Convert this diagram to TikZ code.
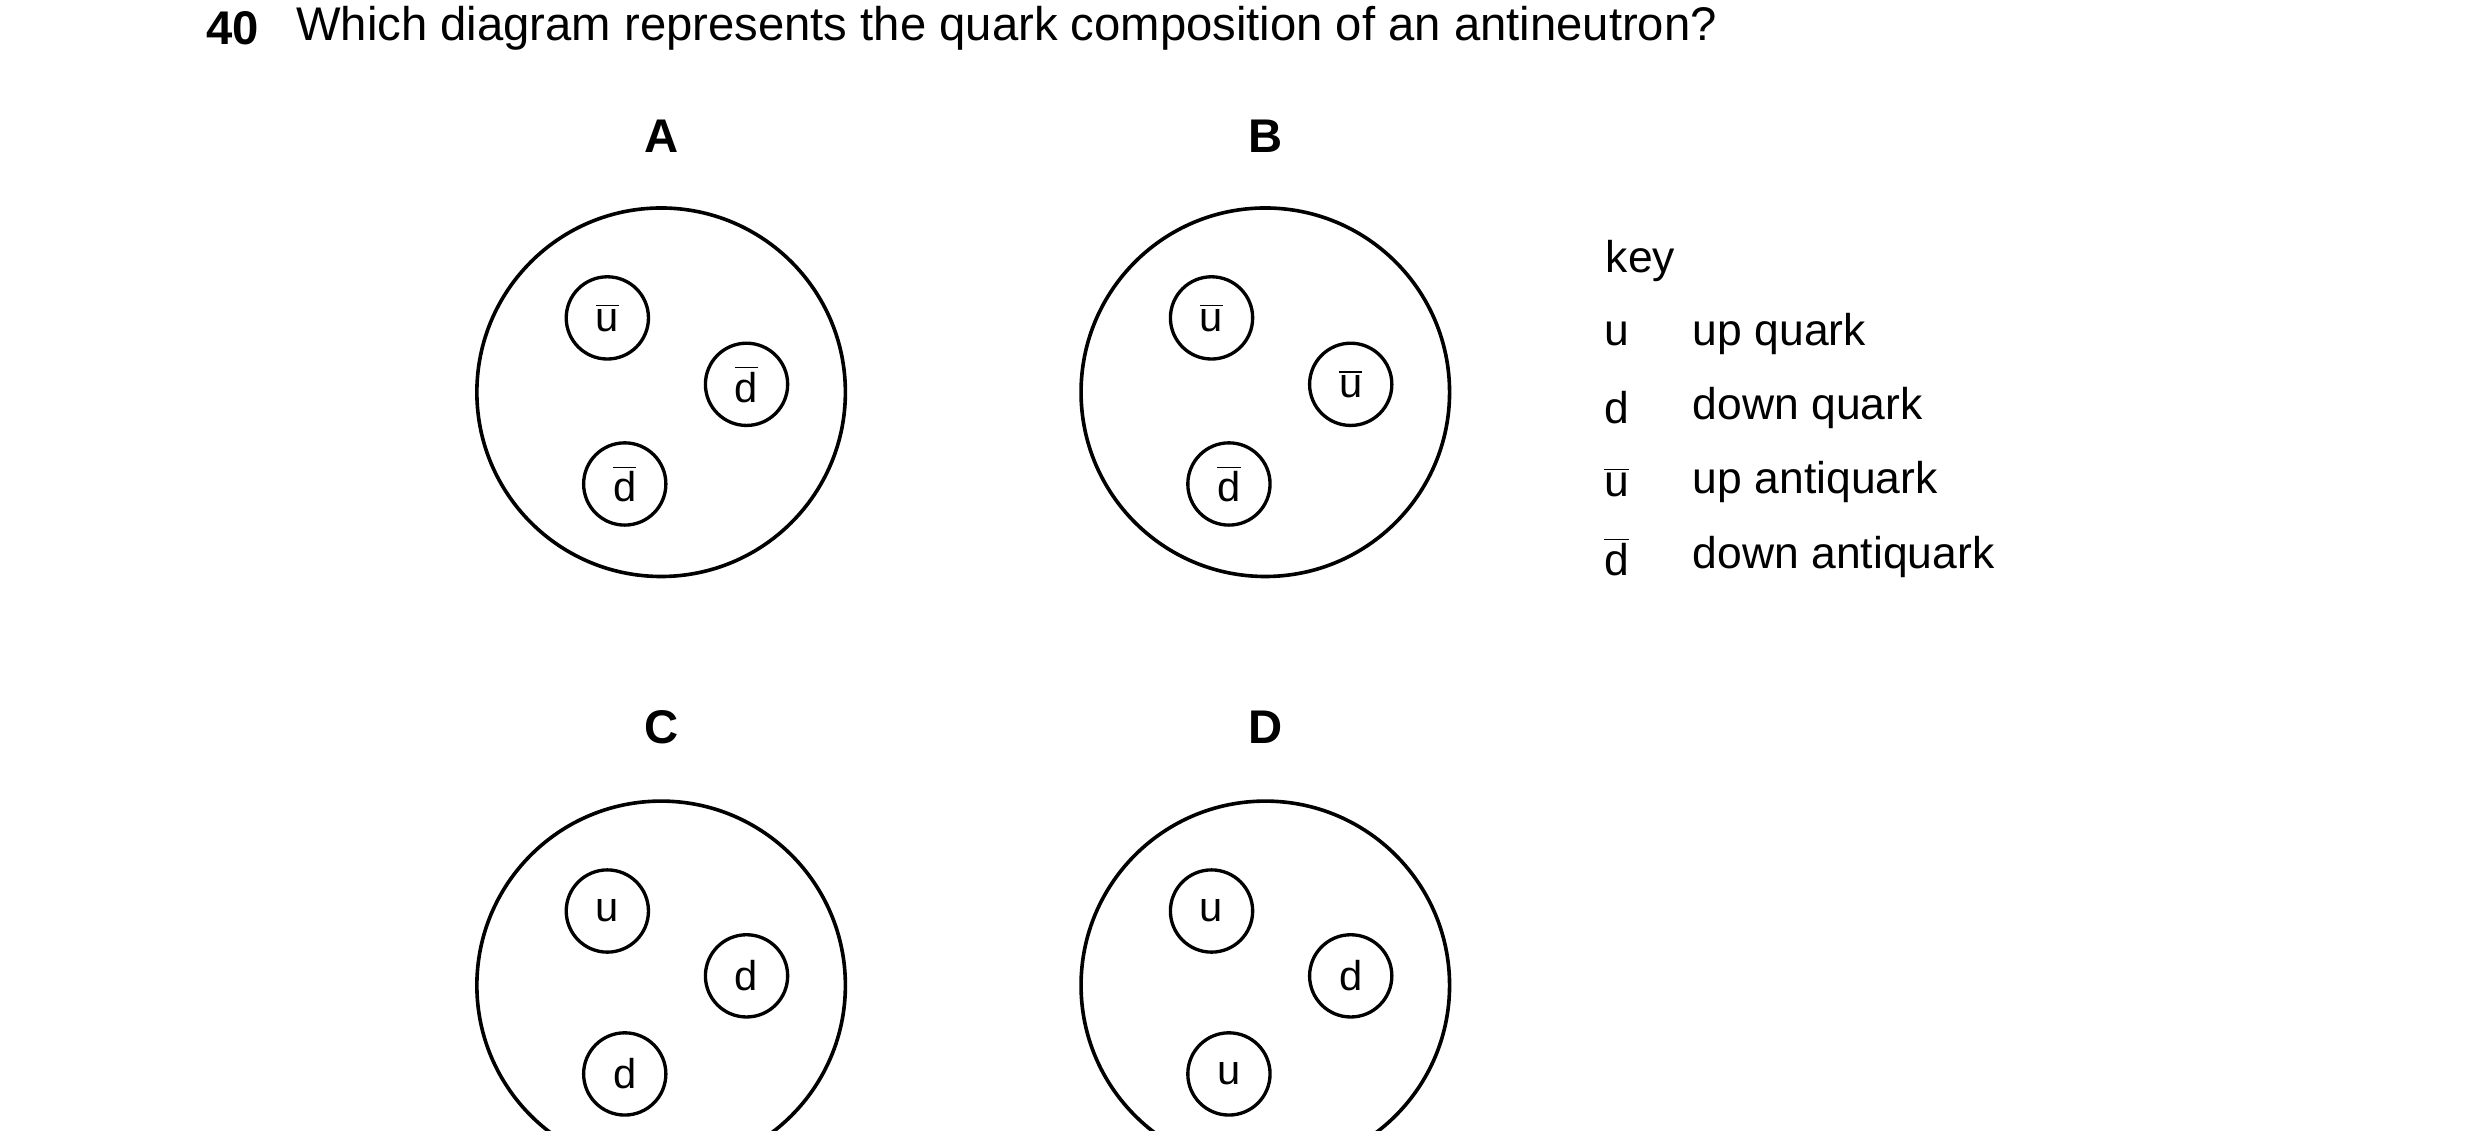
\documentclass[tikz,border=0pt]{standalone}
\usepackage{fontspec}
\setmainfont{Liberation Sans}
\newcommand\qb[1]{\ensuremath{\overline{\mbox{#1}}}}
\begin{document}
\begin{tikzpicture}[x=0.02cm,y=-0.02cm,
  big/.style={circle,draw,line width=1.3pt,minimum size=233*0.02cm,inner sep=0pt},
  q/.style={circle,draw,line width=1.2pt,minimum size=52*0.02cm,inner sep=0pt,font=\fontsize{15}{18}\selectfont},
  lab/.style={font=\fontsize{17}{20}\selectfont\bfseries},
  txt/.style={anchor=west,inner sep=0pt,font=\fontsize{16}{19}\selectfont}]
\useasboundingbox (0,0) rectangle (1568,715);
\clip (0,0) rectangle (1568,715);
\node[txt,font=\fontsize{17}{20}\selectfont\bfseries] (n) at (130,18) {40};
\node[txt,font=\fontsize{17}{20}\selectfont] (t) at (187,18) {Which diagram represents the quark composition of an antineutron?};
\node[lab] (lA) at (418,86) {A};
\node[lab] (lB) at (800,86) {B};
\node[lab] (lC) at (418,460) {C};
\node[lab] (lD) at (800,460) {D};
\node[big] (A) at (418,248) {};
\node[big] (B) at (800,248) {};
\node[big] (C) at (418,623) {};
\node[big] (D) at (800,623) {};
\node[q] (a1) at (384,201) {\qb{u}};
\node[q] (a2) at (472,243) {\qb{d}};
\node[q] (a3) at (395,306) {\qb{d}};
\node[q] (b1) at (766,201) {\qb{u}};
\node[q] (b2) at (854,243) {\qb{u}};
\node[q] (b3) at (777,306) {\qb{d}};
\node[q] (c1) at (384,576) {u};
\node[q] (c2) at (472,617) {d};
\node[q] (c3) at (395,679) {d};
\node[q] (d1) at (766,576) {u};
\node[q] (d2) at (854,617) {d};
\node[q] (d3) at (777,679) {u};
\node[txt] (key) at (1015,165) {key};
\node[txt] (s1) at (1014,211) {u};
\node[txt] (s2) at (1014,258) {d};
\node[txt] (s3) at (1014,305) {\qb{u}};
\node[txt] (s4) at (1014,352) {\qb{d}};
\node[txt] (k1) at (1070,211) {up quark};
\node[txt] (k2) at (1070,258) {down quark};
\node[txt] (k3) at (1070,305) {up antiquark};
\node[txt] (k4) at (1070,352) {down antiquark};
\end{tikzpicture}
\end{document}
